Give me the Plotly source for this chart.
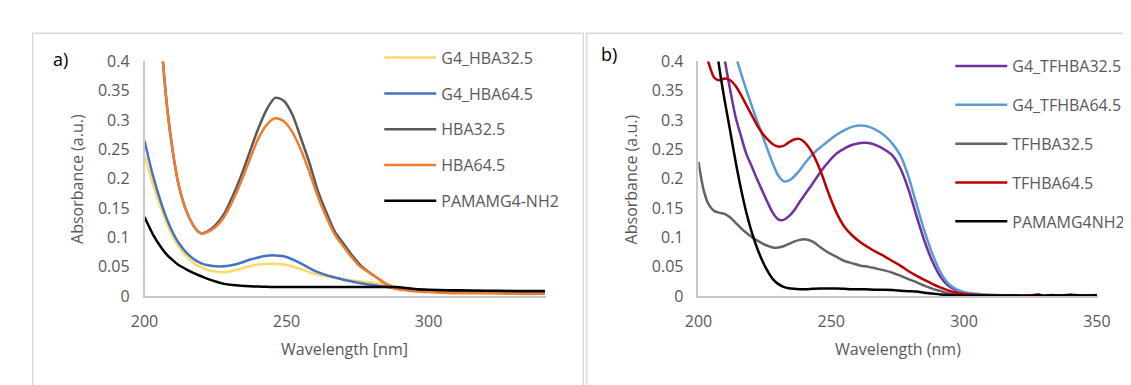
import plotly.graph_objects as go

# ---------------- Panel a) data ----------------
wl_a = [200, 203, 206, 208, 210, 212, 215, 218, 220, 222, 225, 228, 231, 234, 237, 240, 243, 246, 249,
        252, 255, 258, 261, 264, 267, 270, 273, 276, 279, 282, 285, 288, 292, 296, 300, 310, 320, 330, 341]

g4_hba32 = [0.24, 0.19, 0.148, 0.122, 0.102, 0.085, 0.067, 0.054, 0.049, 0.045, 0.042, 0.041, 0.043, 0.047,
            0.051, 0.054, 0.055, 0.055, 0.054, 0.051, 0.046, 0.041, 0.037, 0.034, 0.031, 0.029, 0.027, 0.025,
            0.024, 0.022, 0.020, 0.017, 0.013, 0.011, 0.010, 0.008, 0.007, 0.006, 0.006]
g4_hba64 = [0.265, 0.205, 0.157, 0.13, 0.108, 0.091, 0.073, 0.061, 0.056, 0.053, 0.051, 0.051, 0.053, 0.057,
            0.062, 0.066, 0.069, 0.0695, 0.068, 0.063, 0.056, 0.048, 0.041, 0.036, 0.032, 0.028, 0.025, 0.022,
            0.020, 0.018, 0.016, 0.014, 0.012, 0.011, 0.010, 0.008, 0.007, 0.006, 0.006]
hba32 = [0.95, 0.65, 0.43, 0.32, 0.245, 0.19, 0.142, 0.115, 0.107, 0.110, 0.121, 0.140, 0.170, 0.205, 0.245,
         0.285, 0.318, 0.338, 0.333, 0.31, 0.27, 0.228, 0.18, 0.143, 0.11, 0.09, 0.07, 0.053, 0.041, 0.031,
         0.021, 0.014, 0.012, 0.011, 0.010, 0.008, 0.007, 0.006, 0.006]
hba64 = [0.95, 0.65, 0.43, 0.32, 0.245, 0.19, 0.142, 0.115, 0.107, 0.109, 0.118, 0.135, 0.162, 0.195, 0.232,
         0.268, 0.292, 0.303, 0.298, 0.28, 0.25, 0.212, 0.17, 0.135, 0.105, 0.085, 0.066, 0.05, 0.041, 0.031,
         0.021, 0.013, 0.010, 0.008, 0.007, 0.005, 0.005, 0.004, 0.004]
pamam_a = [0.135, 0.105, 0.082, 0.070, 0.061, 0.053, 0.045, 0.038, 0.034, 0.030, 0.025, 0.021, 0.019, 0.0178,
           0.017, 0.0165, 0.016, 0.0157, 0.0156, 0.0156, 0.0156, 0.0156, 0.0156, 0.0156, 0.0156, 0.0156, 0.0156,
           0.0156, 0.0156, 0.0156, 0.0155, 0.0155, 0.014, 0.012, 0.011, 0.010, 0.0095, 0.009, 0.009]

names_a = ["G4_HBA32.5", "G4_HBA64.5", "HBA32.5", "HBA64.5", "PAMAMG4-NH2"]
series_a = [g4_hba32, g4_hba64, hba32, hba64, pamam_a]
colors_a = ["#FFD966", "#4472C4", "#595959", "#ED7D31", "#000000"]

# ---------------- Panel b) data ----------------
wl_b = [200, 202, 204, 206, 208, 210, 212, 214, 216, 218, 220, 222, 224, 226, 228, 230, 232, 234, 236, 238,
        240, 243, 246, 249, 252, 255, 258, 261, 264, 267, 270, 273, 276, 279, 282, 285, 288, 291, 294, 297,
        300, 305, 310, 320, 325, 328, 330, 333, 336, 340, 345, 350]

g4_tfhba32 = [0.75, 0.66, 0.58, 0.51, 0.45, 0.40, 0.35, 0.305, 0.273, 0.243, 0.222, 0.2, 0.18, 0.16, 0.142,
              0.131, 0.130, 0.136, 0.146, 0.16, 0.173, 0.192, 0.212, 0.229, 0.243, 0.252, 0.258, 0.261, 0.261,
              0.257, 0.25, 0.24, 0.218, 0.183, 0.138, 0.095, 0.06, 0.034, 0.018, 0.010, 0.006, 0.003, 0.002,
              0.001, 0.001, 0.001, 0.001, 0.001, 0.001, 0.001, 0.001, 0.001]
g4_tfhba64 = [0.86, 0.78, 0.70, 0.63, 0.56, 0.50, 0.45, 0.41, 0.38, 0.352, 0.325, 0.3, 0.275, 0.25, 0.226,
              0.206, 0.196, 0.197, 0.204, 0.214, 0.226, 0.242, 0.254, 0.265, 0.275, 0.283, 0.289, 0.291, 0.289,
              0.283, 0.274, 0.26, 0.24, 0.205, 0.158, 0.112, 0.073, 0.042, 0.022, 0.012, 0.007, 0.004, 0.002,
              0.001, 0.001, 0.001, 0.001, 0.001, 0.001, 0.001, 0.001, 0.001]
tfhba32 = [0.229, 0.18, 0.155, 0.145, 0.142, 0.14, 0.134, 0.125, 0.116, 0.108, 0.101, 0.095, 0.09, 0.086,
           0.083, 0.083, 0.085, 0.089, 0.093, 0.096, 0.097, 0.093, 0.083, 0.074, 0.067, 0.06, 0.056, 0.052,
           0.05, 0.047, 0.044, 0.04, 0.035, 0.029, 0.024, 0.018, 0.013, 0.009, 0.005, 0.003, 0.002, 0.001,
           0.001, 0.0005, 0.0005, 0.0008, 0.0005, 0.0008, 0.0005, 0.0008, 0.0005, 0.0008]
tfhba64 = [0.48, 0.43, 0.395, 0.372, 0.368, 0.371, 0.368, 0.358, 0.343, 0.326, 0.309, 0.292, 0.278, 0.267,
           0.259, 0.255, 0.256, 0.262, 0.267, 0.268, 0.262, 0.243, 0.213, 0.175, 0.142, 0.118, 0.103, 0.092,
           0.083, 0.075, 0.068, 0.06, 0.052, 0.043, 0.035, 0.028, 0.021, 0.015, 0.010, 0.006, 0.004, 0.002,
           0.001, 0.001, 0.001, 0.003, 0.0005, 0.002, 0.001, 0.0025, 0.001, 0.002]
pamam_b = [0.75, 0.63, 0.53, 0.45, 0.385, 0.33, 0.28, 0.229, 0.183, 0.143, 0.11, 0.083, 0.061, 0.043, 0.029,
           0.021, 0.016, 0.0135, 0.0125, 0.012, 0.012, 0.0125, 0.013, 0.013, 0.013, 0.0125, 0.012, 0.012,
           0.0115, 0.011, 0.011, 0.0105, 0.0095, 0.0085, 0.0078, 0.006, 0.0045, 0.003, 0.002, 0.0015, 0.001,
           0.001, 0.001, 0.001, 0.001, 0.002, 0.0005, 0.0015, 0.001, 0.002, 0.001, 0.0015]

names_b = ["G4_TFHBA32.5", "G4_TFHBA64.5", "TFHBA32.5", "TFHBA64.5", "PAMAMG4NH2"]
series_b = [g4_tfhba32, g4_tfhba64, tfhba32, tfhba64, pamam_b]
colors_b = ["#7030A0", "#5B9BD5", "#636363", "#C00000", "#000000"]

y_ticks = [0, 0.05, 0.1, 0.15, 0.2, 0.25, 0.3, 0.35, 0.4]
x_ticks_a = [200, 250, 300]
x_ticks_b = [200, 250, 300, 350]

# ---------------- Figure ----------------
W, H = 1131, 385
FONT = "Open Sans, Liberation Sans, sans-serif"
TXT = "#595959"

fig = go.Figure()
for i, (n, s, c) in enumerate(zip(names_a, series_a, colors_a)):
    fig.add_trace(go.Scatter(x=wl_a, y=s, name=n, mode="lines", xaxis="x", yaxis="y",
                             line=dict(color=c, width=2.5, shape="spline", smoothing=0.8),
                             legend="legend", legendgroup="a%d" % i))
for i, (n, s, c) in enumerate(zip(names_b, series_b, colors_b)):
    fig.add_trace(go.Scatter(x=wl_b, y=s, name=n, mode="lines", xaxis="x2", yaxis="y2",
                             line=dict(color=c, width=2.5, shape="spline", smoothing=0.8),
                             legend="legend2", legendgroup="b%d" % i))

def px(x):
    return x / W

def py(y):
    return (H - y) / H

axis_common = dict(showline=True, linecolor="#C8C8C8", linewidth=1.5, showgrid=False, zeroline=False,
                   ticks="", tickfont=dict(family=FONT, size=16, color=TXT), ticklabelstandoff=10)

fig.update_layout(
    width=W, height=H, margin=dict(l=0, r=0, t=0, b=0),
    paper_bgcolor="white", plot_bgcolor="white",
    font=dict(family=FONT, size=16, color=TXT),
    xaxis=dict(domain=[px(125.5), px(536.7)], range=[200, 341.3], tickvals=x_ticks_a, anchor="y", **axis_common),
    yaxis=dict(domain=[py(294), py(45)], range=[0, 0.4], tickvals=y_ticks, anchor="x", **axis_common),
    xaxis2=dict(domain=[px(693), px(1102)], range=[200, 350.3], tickvals=x_ticks_b, anchor="y2", **axis_common),
    yaxis2=dict(domain=[py(294), py(45)], range=[0, 0.4], tickvals=y_ticks, anchor="x2", **axis_common),
    legend=dict(x=px(366), y=py(23), xanchor="left", yanchor="top", bgcolor="rgba(0,0,0,0)", itemwidth=52,
                font=dict(family=FONT, size=16, color=TXT), tracegroupgap=12, itemclick=False),
    legend2=dict(x=px(951), y=py(32), xanchor="left", yanchor="top", bgcolor="rgba(0,0,0,0)", itemwidth=52,
                 font=dict(family=FONT, size=16, color=TXT), tracegroupgap=15, itemclick=False),
    showlegend=True,
)

ann = [
    dict(text="a)", x=px(39), y=py(42), font=dict(size=18, color="#000000")),
    dict(text="b)", x=px(601), y=py(37), font=dict(size=18, color="#000000")),
    dict(text="Absorbance (a.u.)", x=px(57), y=py(170), textangle=-90),
    dict(text="Absorbance (a.u.)", x=px(624), y=py(170), textangle=-90),
    dict(text="Wavelength [nm]", x=px(330), y=py(350)),
    dict(text="Wavelength (nm)", x=px(897), y=py(350)),
]
for a in ann:
    a.setdefault("font", dict(size=16, color=TXT))
    a["font"]["family"] = FONT
    fig.add_annotation(xref="paper", yref="paper", showarrow=False, xanchor="center", yanchor="middle", **a)

# panel frames
fig.add_shape(type="rect", xref="paper", yref="paper", x0=px(11), x1=px(575), y0=-0.05, y1=py(15),
              line=dict(color="#D9D9D9", width=1.5), layer="below")
fig.add_shape(type="rect", xref="paper", yref="paper", x0=px(578.5), x1=1.05, y0=-0.05, y1=py(15),
              line=dict(color="#D9D9D9", width=1.5), layer="below")

fig.write_html("out.html")
